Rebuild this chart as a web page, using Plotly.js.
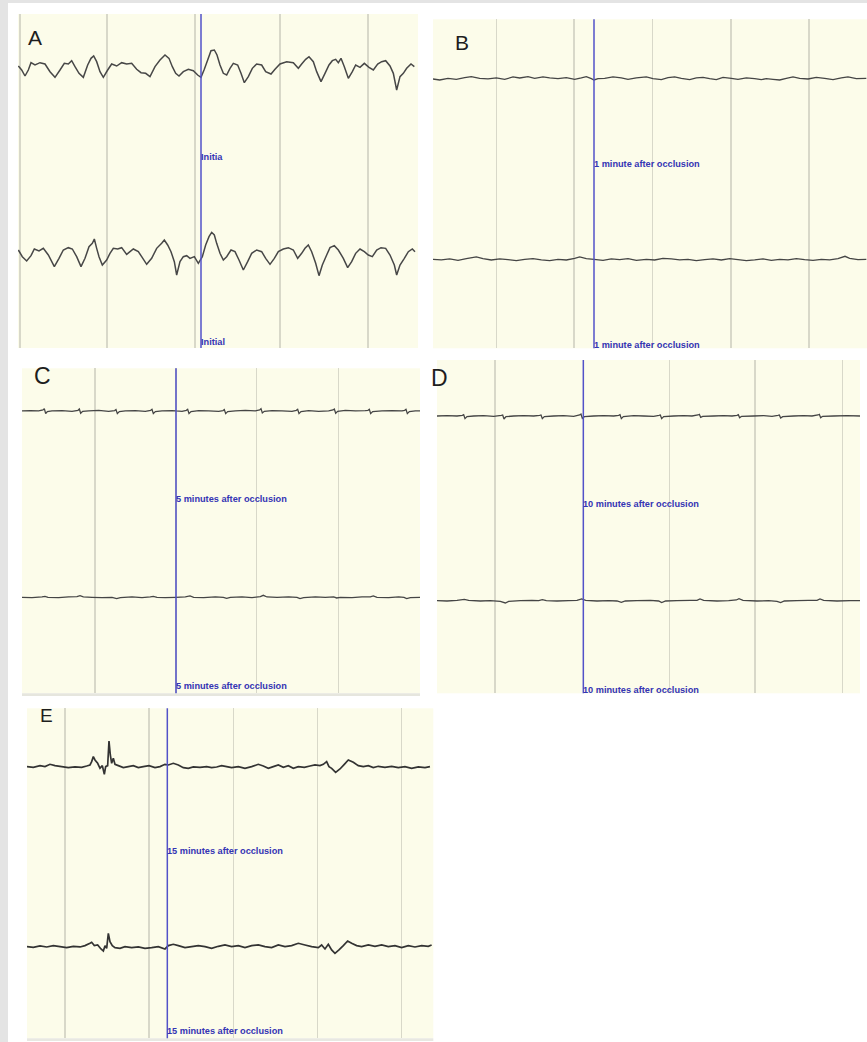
<!DOCTYPE html>
<html><head><meta charset="utf-8">
<script src="https://cdn.plot.ly/plotly-3.0.1.min.js"></script>
<style>html,body{margin:0;padding:0;background:#fff}#chart{width:867px;height:1042px}</style>
</head><body><div id="chart"></div>
<script>
// ===== DATA (sample index n, amplitude in µV) =====
// Panel A – Initial
const A1_n = [1,11,21,31,39,51,66,81,96,111,126,139,151,161,171,183,196,209,219,227,236,246,256,269,281,296,311,326,341,356,369,383,396,411,426,441,453,463,473,483,496,511,526,539,549,559,569,579,589,597,606,616,626,636,646,659,669,679,691,703,716,731,743,759,771,786,806,826,841,851,863,873,886,896,909,921,933,943,953,961,969,979,991,1003,1013,1026,1039,1053,1066,1079,1091,1103,1116,1126,1136,1146,1156,1166,1179,1189];
const A1_uv = [2,-10,-28,-10,12,5,12,8,-15,-32,-10,10,8,18,0,-20,-32,5,25,32,15,-15,-32,-10,8,2,12,8,10,-8,-18,-20,-30,0,20,35,25,0,-20,-28,-15,-8,-12,-25,-32,-8,20,48,50,35,5,-20,-25,-5,10,5,-20,-48,-30,-5,8,5,-15,-22,-8,8,15,12,-5,8,22,30,15,-15,-45,-20,5,18,22,12,25,0,-35,-15,5,-2,10,-2,-10,8,15,18,2,-20,-70,-30,-20,-5,8,0];
const A2_n = [1,13,26,39,49,63,76,91,109,123,136,151,163,176,189,201,213,223,229,236,243,253,266,276,286,299,311,326,336,346,361,371,386,401,416,431,439,449,459,469,476,486,496,506,516,529,541,553,563,573,581,589,596,606,616,626,639,651,663,676,689,701,716,731,743,756,769,781,796,811,826,839,851,861,871,881,893,903,913,926,936,949,961,976,989,1001,1013,1026,1039,1051,1063,1076,1089,1103,1116,1129,1136,1146,1159,1171,1183,1191];
const A2_uv = [5,-15,-28,-12,8,2,10,-10,-45,-20,5,12,8,-15,-45,-20,15,25,38,10,-15,-40,-25,-5,10,8,12,-8,0,8,0,-15,-38,-20,10,25,35,20,0,-30,-70,-30,-15,-12,-20,-15,-35,-15,20,45,58,50,25,-5,-25,-15,5,0,-25,-55,-30,-5,5,0,-20,-38,-20,0,8,12,5,-20,-5,10,20,0,-35,-72,-40,-10,12,18,5,-20,-48,-30,-5,8,0,-10,-15,5,12,10,-10,-40,-70,-40,-20,0,8,0];
const A_grid = [6,267,531,786,1050];
const A_marker = 549;
const A_events = ['Initia','Initial'];

// Panel B – 1 minute after occlusion
const B1_n = [0,20,45,70,95,115,140,165,190,215,240,260,285,305,330,350,375,400,425,445,460,475,483,495,515,540,565,585,610,640,660,685,705,725,745,770,790,810,830,850,870,895,915,940,965,985,1000,1020,1040,1060,1080,1100,1125,1150,1175,1200,1225,1245,1270,1300];
const B1_uv = [-2,-5,0,-3,2,5,0,-2,1,-3,4,1,5,0,4,1,-1,2,-3,1,5,-1,-5,-1,0,4,1,-3,1,4,-1,-4,2,4,0,-4,1,3,-1,-4,3,0,-3,1,-1,-4,-1,-3,-5,0,4,0,-2,3,0,-4,1,4,-1,0];
const B2_n = [0,25,50,75,100,130,150,175,200,225,250,275,300,325,350,375,400,425,440,460,483,510,535,560,585,610,640,665,690,715,740,765,790,815,840,865,890,915,940,965,990,1015,1040,1065,1090,1115,1140,1165,1190,1215,1236,1250,1275,1300];
const B2_uv = [0,-2,1,-3,2,7,2,-2,1,-1,-4,0,2,-2,-4,0,-2,3,7,2,0,-3,1,-1,2,-3,0,-2,3,1,-2,0,-4,-1,1,-2,2,-1,-4,-2,1,-3,0,-2,2,-1,-3,0,-2,2,9,3,-1,0];
const B_grid = [191,423,659,894,1128];
const B_marker = 483;
const B_events = ['1 minute after occlusion','1 minute after occlusion'];

// Panel C – 5 minutes after occlusion
const C1_n = [0,25,50,63,67,71,76,90,120,150,168,172,176,182,200,230,260,278,282,286,292,310,340,370,386,390,394,400,420,450,462,480,493,497,501,507,530,560,590,603,607,611,617,640,670,700,713,717,721,727,750,780,810,823,827,831,837,860,890,920,933,937,941,947,970,1000,1030,1038,1042,1046,1052,1080,1110,1140,1148,1152,1156,1162,1180,1194];
const C1_uv = [0,1,0,3,7,-8,-2,0,1,-1,2,6,-7,-1,0,2,-1,1,4,-8,-2,0,1,-1,2,5,-8,-2,0,1,0,-1,2,5,-8,-2,1,0,-1,1,4,-8,-2,0,2,0,3,7,-6,-1,1,0,-1,2,5,-8,-2,1,-1,0,3,6,-7,-1,2,0,1,2,5,-8,-2,0,1,0,2,5,-8,-2,0,0];
const C2_n = [0,30,60,69,78,110,140,165,174,184,210,240,270,284,295,330,360,385,394,405,430,462,490,504,515,545,580,604,614,625,660,690,715,724,735,765,800,825,834,845,880,910,935,944,955,990,1020,1045,1054,1065,1100,1130,1146,1154,1165,1194];
const C2_uv = [0,-1,1,3,0,-1,1,2,5,1,0,-1,0,-4,-1,1,-1,1,3,0,-1,0,1,4,0,-1,1,0,-3,0,1,-1,2,6,1,0,1,0,-4,-1,1,0,1,-2,0,-1,1,1,4,0,-1,1,0,-4,-1,0];
const C_grid = [219,462,704,949];
const C_marker = 462;
const C_events = ['5 minutes after occlusion','5 minutes after occlusion'];

// Panel D – 10 minutes after occlusion
const D1_n = [0,30,60,76,80,84,90,110,140,170,193,197,201,207,230,260,290,308,312,316,322,350,380,410,428,432,436,442,470,500,530,545,549,553,559,590,620,650,666,670,674,680,710,740,765,783,787,791,797,830,860,885,900,904,908,914,950,980,1005,1023,1027,1031,1037,1070,1100,1125,1143,1147,1151,1157,1190,1230,1269];
const D1_uv = [0,1,0,2,4,-8,-2,0,1,-1,2,3,-9,-2,0,1,0,2,3,-8,-2,0,1,-1,3,6,-7,-2,0,1,0,2,4,-8,-2,1,0,-1,2,3,-8,-2,0,1,0,3,5,-4,-1,0,1,0,2,4,-5,-1,0,1,-1,2,3,-6,-2,0,1,0,3,5,-5,-1,0,1,0];
const D2_n = [0,30,60,82,95,130,160,190,205,215,250,285,305,316,328,360,395,420,434,446,480,515,540,553,565,600,640,665,674,686,720,760,780,789,800,840,875,898,906,918,960,995,1020,1031,1042,1080,1115,1140,1149,1160,1200,1240,1269];
const D2_uv = [0,-1,1,4,1,-1,0,-2,-7,-2,0,1,0,3,0,-1,0,1,5,1,-1,0,-1,-5,-1,0,1,-1,-6,-1,0,1,1,5,1,-1,0,2,6,1,-1,0,-2,-6,-1,0,1,1,5,1,-1,0,0];
const D_grid = [174,439,697,954,1216];
const D_marker = 439;
const D_events = ['10 minutes after occlusion','10 minutes after occlusion'];

// Panel E – 15 minutes after occlusion
const E1_n = [0,19,39,54,69,84,104,124,144,164,179,189,194,199,204,212,219,226,232,236,242,246,250,254,259,264,274,289,304,319,334,349,366,384,399,414,424,439,454,469,484,499,519,539,554,569,584,599,614,634,654,674,694,709,724,739,754,769,784,799,814,832,849,864,879,889,899,906,914,926,939,952,964,979,994,1009,1024,1039,1054,1074,1094,1114,1134,1154,1174,1194,1209];
const E1_uv = [0,-2,3,0,7,3,0,-3,-1,-2,2,5,15,30,20,10,-5,3,-23,0,3,77,35,10,25,7,3,-3,0,3,-3,0,3,-3,0,7,5,10,5,-3,-5,-1,-2,0,-3,-1,3,0,-3,0,-5,0,7,2,-5,0,5,-2,3,-5,0,-2,2,5,3,7,15,0,-5,-17,-7,7,20,13,3,0,3,-3,1,-2,1,-3,0,-5,-1,-3,0];
const E2_n = [0,19,39,59,79,99,119,139,159,174,189,194,202,212,222,229,234,239,244,249,256,264,279,294,314,334,354,374,394,414,424,439,454,474,494,514,534,554,574,594,614,634,654,674,694,714,734,754,774,794,814,834,854,874,884,894,904,914,924,936,949,962,974,989,1004,1024,1044,1064,1084,1104,1124,1144,1164,1184,1204,1214];
const E2_uv = [0,-2,2,-1,3,0,-3,1,-1,3,10,13,3,5,-7,-13,3,-5,40,15,3,-3,-5,0,-3,-1,-5,-3,0,-7,3,7,3,-3,0,3,0,-5,1,5,0,3,-3,3,5,0,-3,5,0,3,10,5,0,-3,5,-7,7,-10,-20,-10,3,17,10,3,0,5,1,5,0,3,-3,3,-1,3,1,5];
const E_grid = [114,366,619,871,1124];
const E_marker = 421;
const E_events = ['15 minutes after occlusion','15 minutes after occlusion'];

const panelLetters = ['A','B','C','D','E'];

// ===== LAYOUT =====
const W = 867, H = 1042;
const CREAM = '#fcfcea', GRID = '#d8d8c9', BLUE = '#5252c8', TXTBLUE = '#3434b4';
const PANELS = [
  {letter:panelLetters[0], ch1:[A1_n,A1_uv], ch2:[A2_n,A2_uv], grid:A_grid, marker:A_marker, events:A_events,
   box:{l:18,r:418,t:14,b:348}, xr:[0,1200], y1r:[-844,158], y2r:[-289,713],
   evY:[157,342], let:{x:27,y:37.5,s:21}, lw:1.5, col:'#474747'},
  {letter:panelLetters[1], ch1:[B1_n,B1_uv], ch2:[B2_n,B2_uv], grid:B_grid, marker:B_marker, events:B_events,
   box:{l:433,r:867,t:19.3,b:348.3}, xr:[0,1302], y1r:[-810,177], y2r:[-267,720],
   evY:[163.7,344.7], let:{x:454,y:42.5,s:21}, lw:1.3, col:'#454545'},
  {letter:panelLetters[2], ch1:[C1_n,C1_uv], ch2:[C2_n,C2_uv], grid:C_grid, marker:C_marker, events:C_events,
   box:{l:22,r:420,t:368.3,b:693.3}, xr:[0,1194], y1r:[-847,128], y2r:[-288,687],
   evY:[499.3,686], let:{x:33,y:376,s:23}, lw:1.3, col:'#454545'},
  {letter:panelLetters[3], ch1:[D1_n,D1_uv], ch2:[D2_n,D2_uv], grid:D_grid, marker:D_marker, events:D_events,
   box:{l:437,r:860,t:360,b:693.3}, xr:[0,1269], y1r:[-832,168], y2r:[-278,722],
   evY:[503.7,690], let:{x:430,y:378,s:23}, lw:1.3, col:'#454545'},
  {letter:panelLetters[4], ch1:[E1_n,E1_uv], ch2:[E2_n,E2_uv], grid:E_grid, marker:E_marker, events:E_events,
   box:{l:27,r:433.3,t:708.3,b:1038.3}, xr:[0,1219], y1r:[-815,175], y2r:[-275,715],
   evY:[850.7,1031], let:{x:39,y:715,s:19}, lw:1.7, col:'#333333'}
];

const traces = [];
const shapes = [
  {type:'rect', xref:'paper', yref:'paper', x0:0, x1:8/W, y0:0, y1:1, fillcolor:'#e4e4e4', line:{width:0}, layer:'below'},
  {type:'rect', xref:'paper', yref:'paper', x0:0, x1:1, y0:1-3/H, y1:1, fillcolor:'#e4e4e4', line:{width:0}, layer:'below'},
  {type:'rect', xref:'paper', yref:'paper', x0:22/W, x1:420/W, y0:1-696/H, y1:1-693.3/H, fillcolor:'#e6e6de', line:{width:0}, layer:'below'},
  {type:'rect', xref:'paper', yref:'paper', x0:27/W, x1:433.3/W, y0:1-1041/H, y1:1-1038.3/H, fillcolor:'#e8e8e2', line:{width:0}, layer:'below'}
];
const annotations = [];
const layout = {
  width:W, height:H, margin:{l:0,r:0,t:0,b:0,pad:0},
  paper_bgcolor:'#ffffff', plot_bgcolor:CREAM, showlegend:false
};
const hid = {showgrid:false, zeroline:false, showticklabels:false, ticks:'', showline:false, fixedrange:true};

PANELS.forEach((p,i)=>{
  const xn = i===0 ? '' : String(i+1);
  const xr = 'x'+xn, xa = 'xaxis'+xn;
  const y1 = 2*i+1, y2 = 2*i+2;
  const yr1 = y1===1 ? 'y' : 'y'+y1, ya1 = y1===1 ? 'yaxis' : 'yaxis'+y1;
  const yr2 = 'y'+y2, ya2 = 'yaxis'+y2;
  layout[xa] = {domain:[p.box.l/W, p.box.r/W], range:p.xr, anchor:yr1,
    tickmode:'array', tickvals:p.grid, showgrid:true, gridcolor:GRID, gridwidth:1.5,
    showticklabels:false, ticks:'', zeroline:false, showline:false, fixedrange:true};
  layout[ya1] = Object.assign({domain:[1-p.box.b/H, 1-p.box.t/H], range:p.y1r, anchor:xr}, hid);
  layout[ya2] = Object.assign({overlaying:yr1, range:p.y2r, anchor:xr}, hid);
  traces.push({x:p.ch1[0], y:p.ch1[1], xaxis:xr, yaxis:yr1, type:'scatter', mode:'lines',
    line:{color:p.col, width:p.lw, simplify:false}, hoverinfo:'skip'});
  traces.push({x:p.ch2[0], y:p.ch2[1], xaxis:xr, yaxis:yr2, type:'scatter', mode:'lines',
    line:{color:p.col, width:p.lw, simplify:false}, hoverinfo:'skip'});
  shapes.push({type:'line', xref:xr, yref:yr1+' domain', x0:p.marker, x1:p.marker, y0:0, y1:1,
    line:{color:BLUE, width:1.5}});
  p.events.forEach((t,k)=>{
    annotations.push({text:t, xref:xr, x:p.marker, xanchor:'left', yref:'paper', y:1-p.evY[k]/H,
      yanchor:'middle', showarrow:false, borderpad:0, xshift:-1,
      font:{family:'Liberation Sans, Arial, sans-serif', size:9.2, color:TXTBLUE, weight:'bold'}});
  });
  annotations.push({text:p.letter, xref:'paper', x:p.let.x/W, xanchor:'left', yref:'paper', y:1-p.let.y/H,
    yanchor:'middle', showarrow:false, borderpad:0,
    font:{family:'Liberation Sans, Arial, sans-serif', size:p.let.s, color:'#1e1e1e'}});
});
layout.shapes = shapes;
layout.annotations = annotations;

Plotly.newPlot('chart', traces, layout, {staticPlot:true, displayModeBar:false});
</script>
</body></html>
